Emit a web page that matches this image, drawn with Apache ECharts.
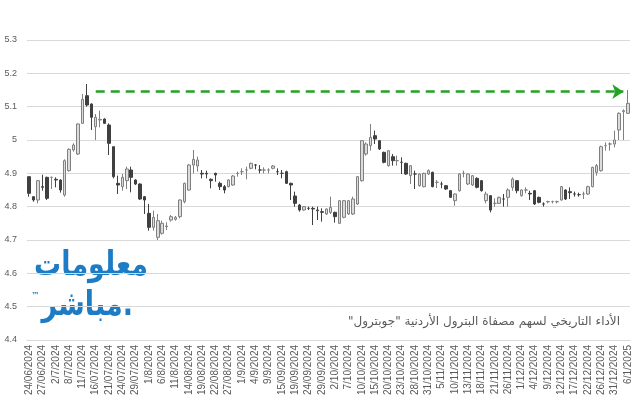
<!DOCTYPE html>
<html>
<head>
<meta charset="utf-8">
<script src="https://cdn.jsdelivr.net/npm/echarts/dist/echarts.min.js"></script>
<style>html,body{margin:0;padding:0;background:#fff;}#c{width:640px;height:400px;}</style>
</head>
<body>
<div id="c"></div>
<script>
const categories = [
'24/06/2024','25/06/2024','26/06/2024','27/06/2024','30/06/2024','1/7/2024',
'2/7/2024','3/7/2024','4/7/2024','8/7/2024','9/7/2024','10/7/2024',
'11/7/2024','14/07/2024','15/07/2024','16/07/2024','17/07/2024','18/07/2024',
'21/07/2024','22/07/2024','23/07/2024','24/07/2024','25/07/2024','28/07/2024',
'29/07/2024','30/07/2024','31/07/2024','1/8/2024','4/8/2024','5/8/2024',
'6/8/2024','7/8/2024','8/8/2024','11/8/2024','12/8/2024','13/08/2024',
'14/08/2024','15/08/2024','18/08/2024','19/08/2024','20/08/2024','21/08/2024',
'22/08/2024','25/08/2024','26/08/2024','27/08/2024','28/08/2024','29/08/2024',
'1/9/2024','2/9/2024','3/9/2024','4/9/2024','5/9/2024','8/9/2024',
'9/9/2024','11/9/2024','12/9/2024','15/09/2024','17/09/2024','18/09/2024',
'19/09/2024','22/09/2024','23/09/2024','24/09/2024','25/09/2024','26/09/2024',
'29/09/2024','30/09/2024','1/10/2024','2/10/2024','3/10/2024','6/10/2024',
'7/10/2024','8/10/2024','9/10/2024','10/10/2024','13/10/2024','14/10/2024',
'15/10/2024','16/10/2024','17/10/2024','20/10/2024','21/10/2024','22/10/2024',
'23/10/2024','24/10/2024','27/10/2024','28/10/2024','29/10/2024','30/10/2024',
'31/10/2024','3/11/2024','4/11/2024','5/11/2024','6/11/2024','7/11/2024',
'10/11/2024','11/11/2024','12/11/2024','13/11/2024','14/11/2024','17/11/2024',
'18/11/2024','19/11/2024','20/11/2024','21/11/2024','24/11/2024','25/11/2024',
'26/11/2024','27/11/2024','28/11/2024','1/12/2024','2/12/2024','3/12/2024',
'4/12/2024','5/12/2024','8/12/2024','9/12/2024','10/12/2024','11/12/2024',
'12/12/2024','15/12/2024','16/12/2024','17/12/2024','18/12/2024','19/12/2024',
'22/12/2024','23/12/2024','24/12/2024','26/12/2024','29/12/2024','30/12/2024',
'31/12/2024','2/1/2025','5/1/2025','6/1/2025'
];

const openP = [
4.89,4.83,4.82,4.86,4.888,4.888,4.882,4.88,4.835,4.908,
4.97,4.958,5.05,5.133,5.108,5.04,5.06,5.063,5.045,4.98,
4.87,4.86,4.878,4.91,4.88,4.868,4.83,4.78,4.738,4.708,
4.72,4.74,4.76,4.762,4.77,4.815,4.85,4.925,4.922,4.9,
4.9,4.882,4.9,4.87,4.86,4.86,4.865,4.9,4.905,4.91,
4.915,4.925,4.91,4.91,4.91,4.915,4.905,4.9,4.905,4.87,
4.832,4.805,4.79,4.795,4.795,4.79,4.785,4.778,4.783,4.783,
4.75,4.768,4.778,4.778,4.808,4.878,4.958,4.983,5.013,4.998,
4.963,4.923,4.95,4.938,4.933,4.93,4.893,4.898,4.863,4.86,
4.898,4.903,4.873,4.868,4.863,4.848,4.818,4.848,4.9,4.868,
4.865,4.885,4.878,4.818,4.833,4.81,4.81,4.823,4.828,4.858,
4.878,4.833,4.85,4.84,4.848,4.828,4.808,4.815,4.815,4.815,
4.82,4.85,4.845,4.838,4.836,4.838,4.838,4.86,4.903,4.908,
4.983,4.988,4.988,5.03,5.085,5.08
];
const closeP = [
4.84,4.82,4.878,4.858,4.825,4.888,4.88,4.85,4.938,4.972,
4.985,5.048,5.122,5.105,5.068,5.068,5.062,5.05,4.99,4.89,
4.865,4.888,4.913,4.888,4.868,4.823,4.82,4.738,4.768,4.758,
4.75,4.742,4.77,4.768,4.82,4.87,4.925,4.942,4.94,4.898,
4.898,4.878,4.895,4.86,4.85,4.88,4.892,4.9,4.905,4.91,
4.93,4.925,4.91,4.91,4.91,4.922,4.905,4.9,4.87,4.865,
4.81,4.79,4.8,4.795,4.793,4.788,4.783,4.793,4.798,4.77,
4.818,4.818,4.818,4.823,4.89,4.998,4.988,5.008,5.003,4.973,
4.933,4.968,4.938,4.938,4.933,4.898,4.923,4.898,4.898,4.9,
4.908,4.86,4.873,4.868,4.853,4.828,4.838,4.898,4.9,4.898,
4.893,4.858,4.848,4.838,4.79,4.81,4.828,4.823,4.85,4.883,
4.848,4.85,4.85,4.838,4.808,4.813,4.808,4.815,4.815,4.815,
4.86,4.823,4.842,4.838,4.836,4.838,4.86,4.918,4.923,4.98,
4.983,4.988,5.0,5.08,5.088,5.11
];
const lowP = [
4.83,4.815,4.81,4.848,4.82,4.853,4.858,4.842,4.83,4.905,
4.965,4.955,5.048,5.1,5.03,5.0,5.038,5.048,4.955,4.885,
4.838,4.848,4.853,4.843,4.865,4.82,4.778,4.728,4.728,4.7,
4.716,4.73,4.755,4.758,4.765,4.81,4.848,4.9,4.905,4.885,
4.885,4.855,4.875,4.85,4.84,4.858,4.863,4.89,4.895,4.882,
4.912,4.912,4.9,4.9,4.9,4.912,4.895,4.885,4.868,4.82,
4.8,4.785,4.788,4.79,4.745,4.76,4.755,4.775,4.778,4.752,
4.748,4.765,4.775,4.775,4.805,4.875,4.953,4.968,4.988,4.97,
4.93,4.92,4.923,4.923,4.898,4.895,4.868,4.853,4.86,4.858,
4.895,4.858,4.856,4.855,4.85,4.826,4.803,4.845,4.888,4.865,
4.862,4.855,4.845,4.81,4.783,4.8,4.808,4.8,4.8,4.848,
4.84,4.83,4.84,4.82,4.805,4.81,4.8,4.81,4.81,4.81,
4.818,4.82,4.823,4.83,4.83,4.823,4.835,4.858,4.893,4.905,
4.968,4.968,4.978,5.0,5.0,5.078
];
const highP = [
4.89,4.83,4.88,4.896,4.89,4.89,4.888,4.882,4.942,4.975,
4.99,5.05,5.138,5.168,5.11,5.078,5.088,5.065,5.05,4.98,
4.893,4.898,4.92,4.92,4.882,4.87,4.832,4.808,4.788,4.778,
4.758,4.753,4.775,4.772,4.822,4.872,4.928,4.97,4.95,4.91,
4.908,4.885,4.902,4.875,4.865,4.882,4.895,4.905,4.915,4.92,
4.932,4.928,4.925,4.918,4.915,4.925,4.915,4.91,4.908,4.872,
4.845,4.808,4.802,4.8,4.8,4.8,4.795,4.795,4.83,4.785,
4.82,4.82,4.82,4.83,4.892,5.0,4.993,5.048,5.028,5.0,
4.965,4.97,4.958,4.953,4.948,4.932,4.925,4.908,4.9,4.902,
4.912,4.905,4.88,4.875,4.865,4.85,4.84,4.9,4.908,4.9,
4.895,4.888,4.88,4.845,4.835,4.825,4.83,4.838,4.855,4.888,
4.88,4.852,4.858,4.848,4.85,4.83,4.813,4.818,4.818,4.818,
4.862,4.852,4.858,4.845,4.842,4.845,4.863,4.92,4.928,4.983,
4.993,4.993,5.028,5.083,5.092,5.15
];

const yTicks = { min: 4.4, max: 5.3, step: 0.1 };
const arrowLevel = 5.145;
const arrowFromIndex = 15;
const arrowToIndex = 134;
const titleText = 'الأداء التاريخي لسهم مصفاة البترول الأردنية "جوبترول"\u200F';
const logoTop = 'معلومات';
const logoBottom = 'مباشر.';

const ohlc = openP.map((o, i) => [o, closeP[i], lowP[i], highP[i]]);

const chart = echarts.init(document.getElementById('c'), null, { renderer: 'canvas' });
const logoBlue = '#1d7cc4';
const logoShadow = { shadowColor: 'rgba(0,0,0,0.45)', shadowBlur: 3, shadowOffsetX: 2, shadowOffsetY: 2 };

chart.setOption({
  animation: false,
  backgroundColor: '#ffffff',
  grid: { left: 27, right: 10, top: 40, bottom: 60 },
  xAxis: {
    type: 'category',
    data: categories,
    boundaryGap: true,
    axisLine: { show: true, lineStyle: { color: '#d9d9d9', width: 1 } },
    axisTick: { show: false },
    axisLabel: {
      interval: 2, rotate: 90, color: '#595959', fontSize: 10,
      fontFamily: 'Liberation Sans', margin: 5
    },
    splitLine: { show: false }
  },
  yAxis: {
    type: 'value',
    min: yTicks.min, max: yTicks.max, interval: yTicks.step,
    axisLine: { show: false },
    axisTick: { show: false },
    axisLabel: { color: '#595959', fontSize: 9, fontFamily: 'Liberation Sans', margin: 10 },
    splitLine: { lineStyle: { color: '#d9d9d9', width: 1 } }
  },
  series: [{
    type: 'candlestick',
    data: ohlc,
    barWidth: 3,
    itemStyle: {
      color: '#dcdcdc', borderColor: '#808080',
      color0: '#404040', borderColor0: '#404040', borderWidth: 1
    },
    markLine: {
      silent: true,
      symbol: ['none', 'arrow'],
      symbolSize: 11,
      label: { show: false },
      lineStyle: { color: '#25a225', width: 2.5, type: [9, 6] },
      data: [[
        { coord: [arrowFromIndex, arrowLevel] },
        { coord: [arrowToIndex, arrowLevel] }
      ]]
    }
  }],
  graphic: [
    { type: 'text', x: 620, y: 322, style: {
      text: titleText, fill: '#595959', font: '12px "DejaVu Sans"',
      textAlign: 'right', textVerticalAlign: 'middle' } },
    { type: 'text', x: 148, y: 266, scaleY: 1.25, style: Object.assign({
      text: logoTop, fill: logoBlue, font: 'bold 27px "DejaVu Sans"',
      textAlign: 'right', textVerticalAlign: 'middle' }, logoShadow) },
    { type: 'text', x: 133, y: 306, scaleY: 1.25, style: Object.assign({
      text: logoBottom, fill: logoBlue, font: 'bold 27px "DejaVu Sans"',
      textAlign: 'right', textVerticalAlign: 'middle' }, logoShadow) },
    { type: 'text', x: 31, y: 296, style: {
      text: '™', fill: logoBlue, font: 'bold 8px "DejaVu Sans"',
      textAlign: 'left', textVerticalAlign: 'middle' } }
  ]
});
</script>
</body>
</html>
